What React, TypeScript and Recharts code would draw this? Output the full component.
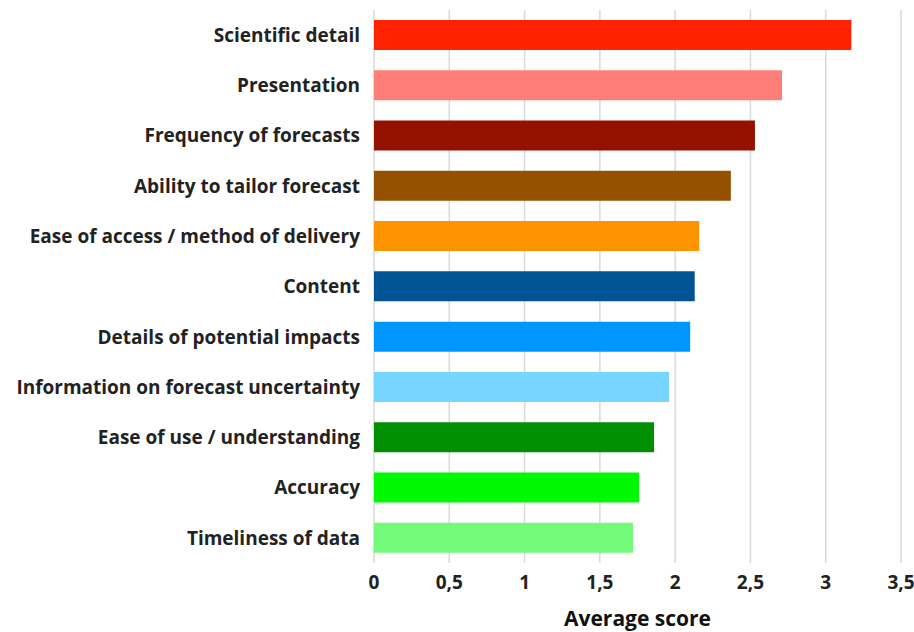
import { BarChart, Bar, XAxis, YAxis, CartesianGrid, Cell, Label } from "recharts";

const categories = [
  "Scientific detail",
  "Presentation",
  "Frequency of forecasts",
  "Ability to tailor forecast",
  "Ease of access / method of delivery",
  "Content",
  "Details of potential impacts",
  "Information on forecast uncertainty",
  "Ease of use / understanding ",
  "Accuracy",
  "Timeliness of data",
];

const scores = [3.17, 2.71, 2.53, 2.37, 2.16, 2.13, 2.1, 1.96, 1.86, 1.76, 1.72];

const barColors = [
  "#ff2200",
  "#ff7f78",
  "#941100",
  "#945200",
  "#ff9300",
  "#005493",
  "#0096ff",
  "#76d6ff",
  "#008f00",
  "#00f900",
  "#73fa79",
];

const xTicks = [0, 0.5, 1, 1.5, 2, 2.5, 3, 3.5];

const data = categories.map((name, i) => ({ name, score: scores[i] }));

const FONT = "'Open Sans', Lato, sans-serif";

export default function App() {
  return (
    <div style={{ position: "absolute", left: 0, top: 0, background: "#fff" }}>
      <BarChart
        width={914}
        height={632}
        data={data}
        layout="vertical"
        margin={{ top: 10, right: 13, bottom: 0, left: 0 }}
        barCategoryGap={10}
      >
        <CartesianGrid horizontal={false} stroke="#d9d9d9" strokeWidth={1.5} />
        <XAxis
          type="number"
          domain={[0, 3.5]}
          ticks={xTicks}
          tickFormatter={(v) => String(v).replace(".", ",")}
          axisLine={false}
          tickLine={false}
          tickMargin={7}
          height={69}
          tick={{ fill: "#222", fontSize: 19, fontWeight: 700, fontFamily: FONT }}
        >
          <Label
            value="Average score"
            position="insideBottom"
            offset={6}
            style={{ fill: "#111", fontSize: 21, fontWeight: 700, fontFamily: FONT }}
          />
        </XAxis>
        <YAxis
          type="category"
          dataKey="name"
          width={374}
          axisLine={false}
          tickLine={false}
          tickMargin={8}
          interval={0}
          tick={{ fill: "#222", fontSize: 19, fontWeight: 700, fontFamily: FONT }}
        />
        <Bar dataKey="score" isAnimationActive={false} barSize={30}>
          {data.map((d, i) => (
            <Cell key={d.name} fill={barColors[i]} />
          ))}
        </Bar>
      </BarChart>
    </div>
  );
}
